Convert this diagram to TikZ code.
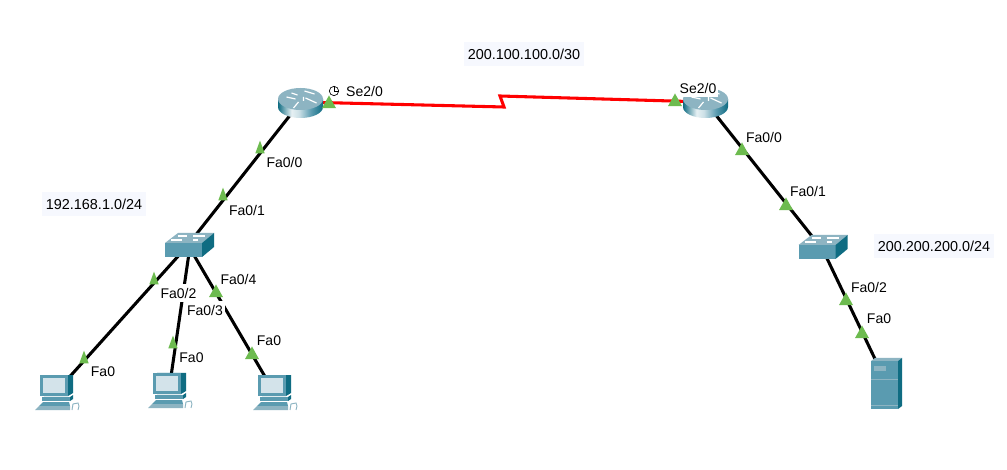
\documentclass[tikz,border=0pt]{standalone}
\usepackage{fontspec}
\setmainfont{Liberation Sans}
\usetikzlibrary{positioning, backgrounds, shapes.geometric}
\definecolor{linkgreen}{HTML}{6DBB4F}
\definecolor{devteal}{HTML}{5A9BB0}
\definecolor{devdark}{HTML}{0F6C82}
\definecolor{devlight}{HTML}{8DB4C2}
\definecolor{devscreen}{HTML}{D3E3EA}
\definecolor{netfill}{HTML}{F6F8FE}
\pgfdeclarehorizontalshading{routerbody}{100bp}{color(0bp)=(devdark);color(25bp)=(devdark);color(40bp)=(white!85!devteal);color(48bp)=(white!70!devteal);color(62bp)=(devteal);color(75bp)=(devdark);color(100bp)=(devdark)}
\tikzset{
  device/.style={
    rectangle,
    minimum size=6pt,
    inner sep=0pt
  },
  link/.style={line width=2.3pt, black},
  seriallink/.style={line width=2.3pt, red},
  portmark/.style={
    isosceles triangle,
    isosceles triangle stretches,
    shape border rotate=90,
    fill=linkgreen,
    minimum width=10.5pt,
    minimum height=9.5pt,
    inner sep=0pt
  },
  slimmark/.style={
    portmark,
    shape border rotate=72,
    minimum width=7pt,
    minimum height=9.5pt
  },
  port/.style={
    fill=white,
    font=\fontsize{10.5}{12}\selectfont,
    inner xsep=1.5pt,
    inner ysep=0pt,
    minimum height=13pt
  },
  net/.style={
    fill=netfill,
    font=\fontsize{10.8}{12}\selectfont,
    inner xsep=3pt,
    inner ysep=0pt,
    minimum height=18.5pt
  },
  routericon/.pic={
    \path[shading=routerbody] (-22.5,-3) -- (-22.5,5) arc[start angle=180,end angle=0,x radius=22.5,y radius=11] -- (22.5,-3) -- cycle;
    \fill[devlight] (0,-3) ellipse [x radius=22.5,y radius=11];
    \draw[white, line width=0.9pt] (-14,-5) -- (-5,-3) (4,-11) -- (14,-8) (-7,6) -- (-2,0) (5,-4) -- (16,1);
    \draw[white, line width=0.9pt] (-9,-9) -- (-3,-7) (3,-1) -- (3,-5);
  },
  switchicon/.pic={
    \fill[devteal] (-25,-5) -- (12,-5) -- (12,9) -- (-25,9) -- cycle;
    \fill[devlight] (-25,-5) -- (-12,-15) -- (24,-15) -- (12,-5) -- cycle;
    \fill[devdark] (12,-5) -- (24,-15) -- (24,-1) -- (12,9) -- cycle;
    \draw[white, line width=0.8pt] (-12,-12) -- (-3,-12) (3,-12) -- (15,-12) (-19,-8) -- (-8,-8) (3,-8) -- (8,-8);
  },
  pcicon/.pic={
    \fill[devdark] (-12,-17) -- (17,-17) -- (17,1) -- (12,4) -- (-12,4) -- cycle;
    \fill[devteal] (-16,-17) -- (12,-17) -- (12,4) -- (-16,4) -- cycle;
    \fill[devscreen] (-13,-14) -- (9,-14) -- (9,1) -- (-13,1) -- cycle;
    \fill[devteal] (-14,5) -- (14,5) -- (14,9) -- (-14,9) -- cycle;
    \fill[devdark] (14,5) -- (17,3) -- (17,7) -- (14,9) -- cycle;
    \fill[devteal] (-17,14) -- (-13,10) -- (13,10) -- (14,14) -- (-17,14) -- cycle;
    \fill[devlight] (-21,18) -- (-17,14) -- (14,14) -- (14,18) -- cycle;
    \draw[devlight, line width=0.7pt] (16,18) -- (17,12) -- (22,11) -- (23,14) (22,18) -- (23,14);
  },
  servericon/.pic={
    \fill[devteal] (-15,-21) -- (12,-21) -- (12,27) -- (-15,27) -- cycle;
    \fill[devlight] (-15,-21) -- (-11,-24) -- (16,-24) -- (12,-21) -- cycle;
    \fill[devdark] (12,-21) -- (16,-24) -- (16,24) -- (12,27) -- cycle;
    \fill[devlight] (-12,-16) -- (0,-16) -- (0,-11) -- (-12,-11) -- cycle;
    \draw[devlight, line width=0.4pt] (-15,-3) -- (12,-3) (-15,23) -- (12,23);
  }
}

\begin{document}
\begin{tikzpicture}[x=0.75pt,y=-0.75pt]
\useasboundingbox (0,0) rectangle (1007,470);

\node[device] (router1) at (300.5,102) {};
\node[device] (router2) at (705.5,102) {};
\node[device] (switch1) at (185.5,248) {};
\node[device] (switch2) at (823,250) {};
\node[device] (pc1) at (56,392) {};
\node[device] (pc2) at (169,390) {};
\node[device] (pc3) at (274,392) {};
\node[device] (server) at (886,382) {};
\coordinate (bolt1) at (504,107);
\coordinate (bolt2) at (500,96);

\begin{scope}[on background layer]
\fill[white] (0,0) rectangle (1007,470);
\draw[seriallink] (router1) -- (bolt1) -- (bolt2) -- (router2);
\draw[link] (router1) -- (switch1);
\draw[link] (switch1) -- (pc1);
\draw[link] (switch1.east) -- (pc2);
\draw[link] (switch1.east) -- (pc3);
\draw[link] (router2) -- (switch2);
\draw[link] (switch2) -- (server);
\end{scope}

\pic at (router1) {routericon};
\pic at (router2) {routericon};
\pic at (190,248) {switchicon};
\pic at (823.5,250) {switchicon};
\pic at (pc1) {pcicon};
\pic at (pc2) {pcicon};
\pic at (pc3) {pcicon};
\pic at (server) {servericon};

\node[portmark] (mark1) at (329,104) {};
\node[portmark] (mark2) at (675,102) {};
\node[slimmark] (mark3) at (260,150) {};
\node[slimmark] (mark4) at (223,197) {};
\node[slimmark] (mark5) at (154,281) {};
\node[slimmark] (mark6) at (84,360) {};
\node[slimmark] (mark7) at (173,345) {};
\node[portmark] (mark8) at (216,293) {};
\node[portmark] (mark9) at (252,355) {};
\node[portmark] (mark10) at (742,151) {};
\node[portmark] (mark11) at (786,206) {};
\node[portmark] (mark12) at (846,301) {};
\node[portmark] (mark13) at (862,334) {};

\node[port] (se1) at (364.5,91) {Se2/0};
\node[draw, circle, line width=0.5pt, minimum size=7pt, inner sep=0pt] (clock) at (334,91) {};
\draw[line width=0.5pt] (clock.north) -- (clock.center) -- (clock.east);
\node[port] (se2) at (698,88) {Se2/0};
\node[port] (fa00) at (284.5,162) {Fa0/0};
\node[port] (fa01) at (247,210) {Fa0/1};
\node[port] (fa04) at (238.5,279) {Fa0/4};
\node[port] (fa02) at (178.5,293) {Fa0/2};
\node[port] (fa03) at (205,310) {Fa0/3};
\node[port] (pcfa1) at (103,372) {Fa0};
\node[port] (pcfa2) at (191.5,358) {Fa0};
\node[port] (pcfa3) at (269,341) {Fa0};
\node[port] (rfa00) at (764,137) {Fa0/0};
\node[port] (rfa01) at (808,191) {Fa0/1};
\node[port] (rfa02) at (869,287) {Fa0/2};
\node[port] (srvfa) at (879,319) {Fa0};

\node[net] (net1) at (524,54) {200.100.100.0/30};
\node[net] (net2) at (94,204) {192.168.1.0/24};
\node[net] (net3) at (934,246) {200.200.200.0/24};
\end{tikzpicture}
\end{document}
